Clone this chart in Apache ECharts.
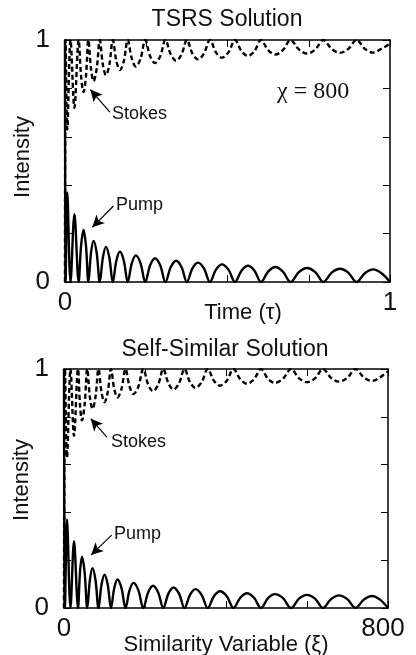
<!DOCTYPE html>
<html>
<head>
<meta charset="utf-8">
<script src="https://cdn.jsdelivr.net/npm/echarts@6/dist/echarts.min.js"></script>
<style>html,body{margin:0;padding:0;background:#fff}#c{width:416px;height:655px}</style>
</head>
<body>
<div id="c"></div>
<script>
// ---------- DATA ----------
const topTitle = 'TSRS Solution';
const bottomTitle = 'Self-Similar Solution';
const topXName = 'Time (τ)';
const bottomXName = 'Similarity Variable (ξ)';
const yName = 'Intensity';
const topXTickLabels = ['0', '1'];
const bottomXTickLabels = ['0', '800'];
const yTickLabels = ['0', '1'];
const chiLabel = 'χ = 800';

// Top panel: pump (solid) and Stokes (dashed), [tau, intensity]
const topPump = [[0,1],[0.002,0],[0.007,0.37],[0.017,0],[0.029,0.28],[0.042,0],[0.0495,0.15],[0.057,0.215],[0.0645,0.15],[0.072,0],[0.080,0.12],[0.088,0.17],[0.0975,0.12],[0.107,0],[0.1165,0.10],[0.126,0.145],[0.1365,0.10],[0.147,0],[0.158,0.088],[0.169,0.125],[0.181,0.088],[0.193,0],[0.2055,0.077],[0.218,0.11],[0.2325,0.077],[0.247,0],[0.262,0.069],[0.277,0.098],[0.293,0.069],[0.309,0],[0.3255,0.062],[0.342,0.088],[0.3585,0.062],[0.375,0],[0.392,0.056],[0.409,0.08],[0.4275,0.056],[0.446,0],[0.4645,0.051],[0.483,0.073],[0.503,0.051],[0.523,0],[0.543,0.047],[0.563,0.067],[0.583,0.047],[0.603,0],[0.625,0.043],[0.647,0.062],[0.6705,0.043],[0.694,0],[0.7195,0.041],[0.745,0.058],[0.770,0.041],[0.795,0],[0.8205,0.039],[0.846,0.055],[0.8715,0.039],[0.897,0],[0.9225,0.036],[0.948,0.052],[0.974,0.036],[1.0,0]];
const topStokes = [[0,0],[0.002,1],[0.007,0.63],[0.017,1],[0.029,0.72],[0.042,1],[0.0495,0.85],[0.057,0.785],[0.0645,0.85],[0.072,1],[0.080,0.881],[0.088,0.83],[0.0975,0.881],[0.107,1],[0.1165,0.898],[0.126,0.855],[0.1365,0.898],[0.147,1],[0.158,0.913],[0.169,0.876],[0.181,0.913],[0.193,1],[0.2055,0.923],[0.218,0.89],[0.2325,0.923],[0.247,1],[0.262,0.933],[0.277,0.905],[0.293,0.933],[0.309,1],[0.3255,0.940],[0.342,0.914],[0.3585,0.940],[0.375,1],[0.392,0.944],[0.409,0.92],[0.4275,0.944],[0.446,1],[0.4645,0.949],[0.483,0.927],[0.503,0.949],[0.523,1],[0.543,0.954],[0.563,0.934],[0.583,0.954],[0.603,1],[0.625,0.958],[0.647,0.94],[0.6705,0.958],[0.694,1],[0.7195,0.961],[0.745,0.944],[0.770,0.961],[0.795,1],[0.8205,0.963],[0.846,0.947],[0.8715,0.963],[0.897,1],[0.9225,0.964],[0.948,0.948],[0.974,0.964],[1.0,0.985]];

// Bottom panel: [xi, intensity]
const bottomPump = [[0,1],[2.5,0],[7.4,0.37],[16.0,0],[24.7,0.28],[34.6,0],[39.5,0.15],[44.4,0.215],[50.9,0.15],[57.4,0],[63.9,0.117],[70.4,0.167],[77.8,0.117],[85.2,0],[92.6,0.097],[100.0,0.139],[108.0,0.097],[116.0,0],[124.0,0.083],[132.1,0.119],[142.0,0.083],[151.9,0],[161.8,0.074],[171.6,0.105],[183.7,0.074],[195.7,0],[207.8,0.065],[219.8,0.093],[232.5,0.065],[245.1,0],[257.8,0.06],[270.4,0.086],[284.0,0.06],[297.5,0],[311.1,0.055],[324.7,0.079],[339.8,0.055],[354.9,0],[370.1,0.049],[385.2,0.07],[401.9,0.049],[418.5,0],[435.2,0.043],[451.9,0.062],[469.2,0.043],[486.4,0],[503.7,0.041],[521.0,0.058],[540.8,0.041],[560.5,0],[580.3,0.039],[600.0,0.055],[619.8,0.039],[639.5,0],[659.3,0.037],[679.0,0.053],[699.4,0.037],[719.8,0],[740.2,0.035],[760.5,0.05],[780.3,0.035],[800,0]];
const bottomStokes = [[0,0],[2.5,1],[7.4,0.63],[16.0,1],[24.7,0.72],[34.6,1],[39.5,0.85],[44.4,0.785],[50.9,0.85],[57.4,1],[63.9,0.883],[70.4,0.833],[77.8,0.883],[85.2,1],[92.6,0.903],[100.0,0.861],[108.0,0.903],[116.0,1],[124.0,0.917],[132.1,0.881],[142.0,0.917],[151.9,1],[161.8,0.927],[171.6,0.895],[183.7,0.927],[195.7,1],[207.8,0.935],[219.8,0.907],[232.5,0.935],[245.1,1],[257.8,0.94],[270.4,0.914],[284.0,0.94],[297.5,1],[311.1,0.945],[324.7,0.921],[339.8,0.945],[354.9,1],[370.1,0.951],[385.2,0.93],[401.9,0.951],[418.5,1],[435.2,0.957],[451.9,0.938],[469.2,0.957],[486.4,1],[503.7,0.959],[521.0,0.942],[540.8,0.959],[560.5,1],[580.3,0.961],[600.0,0.945],[619.8,0.961],[639.5,1],[659.3,0.963],[679.0,0.947],[699.4,0.963],[719.8,1],[740.2,0.965],[760.5,0.95],[780.3,0.965],[800,0.99]];

// Annotation arrows: [tail, head] in data coordinates
const topStokesArrow = [[0.138,0.702],[0.078,0.795]];
const topPumpArrow = [[0.149,0.314],[0.084,0.226]];
const bottomStokesArrow = [[106,0.715],[66,0.792]];
const bottomPumpArrow = [[117.7,0.305],[67,0.222]];

// ---------- CHART ----------
const FONT = 'Liberation Sans';
const INK = '#111';
const chart = echarts.init(document.getElementById('c'), null, {renderer: 'canvas'});

function labelFmt(min, max, labels) {
  return v => (v === min ? '{a|' + labels[0] + '}' : (v === max ? '{b|' + labels[1] + '}' : ''));
}
function xAx(grid, pos, min, max, interval, labels, name, namePad, nameGap, maxPad) {
  return {
    type: 'value', gridIndex: grid, position: pos, min, max, interval,
    axisLine: {show: true, onZero: false, lineStyle: {color: '#000', width: 1.5}},
    axisTick: {show: true, inside: true, length: 7, lineStyle: {color: '#000', width: 1}},
    splitLine: {show: false},
    axisLabel: labels ? {
      show: true, formatter: labelFmt(min, max, labels), fontSize: 26, fontFamily: FONT, color: INK, margin: 8,
      showMinLabel: true, showMaxLabel: true,
      rich: {
        a: {fontSize: 26, fontFamily: FONT, color: INK},
        b: {fontSize: 26, fontFamily: FONT, color: INK, padding: [0, maxPad || 0, 0, 0]}
      }
    } : {show: false},
    name: name || '', nameLocation: 'middle', nameGap: nameGap || 20, nameMoveOverlap: false,
    nameTextStyle: {fontSize: 22, fontFamily: FONT, color: INK, padding: namePad || 0}
  };
}
function yAx(grid, pos, labels, name, namePad) {
  return {
    type: 'value', gridIndex: grid, position: pos, min: 0, max: 1, interval: 0.2,
    axisLine: {show: true, onZero: false, lineStyle: {color: '#000', width: 1.5}},
    axisTick: {show: true, inside: true, length: 7, lineStyle: {color: '#000', width: 1}},
    splitLine: {show: false},
    axisLabel: labels ? {
      show: true, formatter: labelFmt(0, 1, labels), fontSize: 26, fontFamily: FONT, color: INK, margin: 15,
      showMinLabel: true, showMaxLabel: true,
      rich: {a: {fontSize: 26, fontFamily: FONT, color: INK}, b: {fontSize: 26, fontFamily: FONT, color: INK}}
    } : {show: false},
    name: name || '', nameLocation: 'middle', nameRotate: 90, nameGap: 31, nameMoveOverlap: false,
    nameTextStyle: {fontSize: 22, fontFamily: FONT, color: INK, padding: namePad || 0}
  };
}
function arrow(a) {
  return {
    silent: true, animation: false, symbol: ['none', 'arrow'], symbolSize: [9, 12],
    label: {show: false},
    lineStyle: {type: 'solid', color: '#000', width: 1.2},
    itemStyle: {color: '#000'},
    data: [[{coord: a[0]}, {coord: a[1]}]]
  };
}
function line(data, xi, yi, dashed, mk) {
  return {
    type: 'line', xAxisIndex: xi, yAxisIndex: yi, data, showSymbol: false, smooth: 0.35,
    lineStyle: {color: '#000', width: 2.4, type: dashed ? [5, 3] : 'solid'},
    markLine: mk ? arrow(mk) : undefined, z: 3
  };
}

const txt = (x, y, text, size, family, align) => ({
  type: 'text', x, y, silent: true,
  style: {text, fontSize: size, fontFamily: family || FONT, fill: INK, align: align || 'left', verticalAlign: 'middle'}
});

chart.setOption({
  animation: false,
  backgroundColor: '#fff',
  grid: [
    {left: 65, top: 40, width: 325, height: 242, outerBoundsMode: 'none', containLabel: false},
    {left: 64, top: 369, width: 324, height: 239, outerBoundsMode: 'none', containLabel: false}
  ],
  xAxis: [
    xAx(0, 'bottom', 0, 1, 0.25, topXTickLabels, topXName, [0, 0, 0, 31], 20, 0),
    xAx(0, 'top', 0, 1, 0.25, null),
    xAx(1, 'bottom', 0, 800, 200, bottomXTickLabels, bottomXName, 0, 26, 10),
    xAx(1, 'top', 0, 800, 200, null)
  ],
  yAxis: [
    yAx(0, 'left', yTickLabels, yName, [0, 0, 0, 8]),
    yAx(0, 'right', null),
    yAx(1, 'left', yTickLabels, yName, [0, 0, 0, 17]),
    yAx(1, 'right', null)
  ],
  series: [
    line(topStokes, 0, 0, true, topStokesArrow),
    line(topPump, 0, 0, false, topPumpArrow),
    line(bottomStokes, 2, 2, true, bottomStokesArrow),
    line(bottomPump, 2, 2, false, bottomPumpArrow)
  ],
  graphic: [
    txt(227, 20, topTitle, 23, FONT, 'center'),
    txt(225, 350, bottomTitle, 23, FONT, 'center'),
    txt(277, 92, chiLabel, 24, 'Liberation Serif', 'left'),
    txt(112, 114, 'Stokes', 18),
    txt(116, 205, 'Pump', 18),
    txt(111, 442, 'Stokes', 18),
    txt(114, 534, 'Pump', 18)
  ]
});
</script>
</body>
</html>
